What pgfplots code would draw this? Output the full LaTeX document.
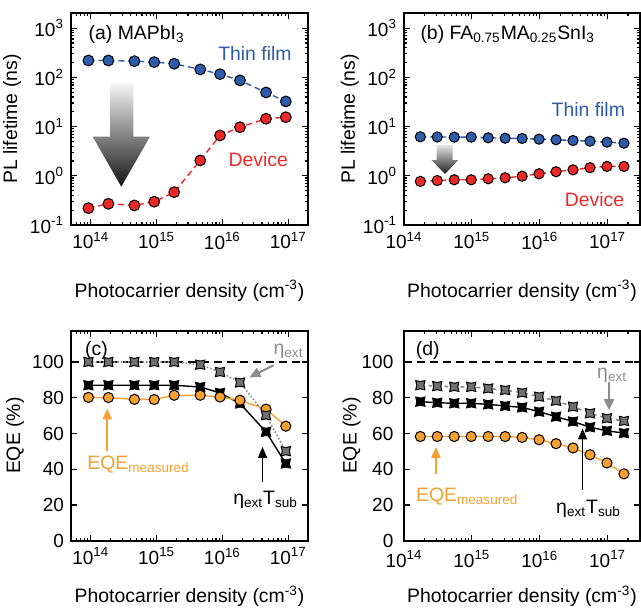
\documentclass[border=0pt]{standalone}
\usepackage{fontspec}
\setmainfont{Liberation Sans}
\usepackage{pgfplots}
\pgfplotsset{compat=1.18}
\usetikzlibrary{arrows.meta}

\definecolor{blueM}{RGB}{46,92,170}
\definecolor{redM}{RGB}{236,40,40}
\definecolor{orangeM}{RGB}{246,160,50}
\definecolor{grayM}{RGB}{112,112,112}
\definecolor{grayT}{RGB}{140,140,140}

% square with concave sides
\pgfdeclareplotmark{csq}{%
  \pgfpathmoveto{\pgfpoint{-\pgfplotmarksize}{-\pgfplotmarksize}}%
  \pgfpathlineto{\pgfpoint{0pt}{-0.78\pgfplotmarksize}}%
  \pgfpathlineto{\pgfpoint{\pgfplotmarksize}{-\pgfplotmarksize}}%
  \pgfpathlineto{\pgfpoint{0.78\pgfplotmarksize}{0pt}}%
  \pgfpathlineto{\pgfpoint{\pgfplotmarksize}{\pgfplotmarksize}}%
  \pgfpathlineto{\pgfpoint{0pt}{0.78\pgfplotmarksize}}%
  \pgfpathlineto{\pgfpoint{-\pgfplotmarksize}{\pgfplotmarksize}}%
  \pgfpathlineto{\pgfpoint{-0.78\pgfplotmarksize}{0pt}}%
  \pgfpathclose
  \pgfusepathqfillstroke}

\pgfplotsset{every axis/.append style={scale only axis, clip=false,
    axis line style={line width=0.9pt}, tick align=inside,
    tick style={black, line width=0.6pt}, major tick length=3pt, minor tick length=1.6pt,
    font=\fontsize{9.7}{11}\selectfont,
    tick label style={font=\fontsize{9.5}{11}\selectfont},
    /pgf/number format/assume math mode=true}}

\begin{document}
\begin{tikzpicture}
\useasboundingbox (0,0) rectangle (320.5pt,-303.5pt);

% (a)
\begin{axis}[xmode=log, ymode=log, at={(35.5pt,-112.5pt)}, anchor=south west,
  width=118.5pt, height=105.85pt, xmin=5e13, xmax=2e17, ymin=0.1, ymax=2000,
  xtick={1e14,1e15,1e16,1e17},
  xticklabels={10\textsuperscript{14},10\textsuperscript{15},10\textsuperscript{16},10\textsuperscript{17}},
  minor xtick={6e13,7e13,8e13,9e13,2e14,3e14,4e14,5e14,6e14,7e14,8e14,9e14,2e15,3e15,4e15,5e15,6e15,7e15,8e15,9e15,2e16,3e16,4e16,5e16,6e16,7e16,8e16,9e16},
  ytick={0.1,1,10,100,1000},
  yticklabels={10\textsuperscript{-1},10\textsuperscript{0},10\textsuperscript{1},10\textsuperscript{2},10\textsuperscript{3}},
  minor ytick={0.2,0.3,0.4,0.5,0.6,0.7,0.8,0.9,2,3,4,5,6,7,8,9,20,30,40,50,60,70,80,90,200,300,400,500,600,700,800,900},
  xlabel={Photocarrier density (cm\textsuperscript{-3})}, ylabel={PL lifetime (ns)},
  xlabel style={at={(axis description cs:0.5,-0.31)}, anchor=center},
  ylabel style={at={(axis description cs:-0.249,0.5)}, anchor=center}]
\addplot[blueM, densely dashed, line width=0.7pt, mark=*, mark size=2.7pt, mark options={solid, draw=black, fill=blueM, line width=0.5pt}] coordinates {
(9.2e13,220) (1.85e14,220) (4.6e14,213) (9.2e14,204) (1.85e15,189)
(4.6e15,145) (9.2e15,116) (1.85e16,86.5) (4.6e16,49.3) (9.2e16,32.4)};
\addplot[redM, densely dashed, line width=0.7pt, mark=*, mark size=2.7pt, mark options={solid, draw=black, fill=redM, line width=0.5pt}] coordinates {
(9.2e13,0.22) (1.85e14,0.27) (4.6e14,0.25) (9.2e14,0.297) (1.85e15,0.465)
(4.6e15,2.05) (9.2e15,6.6) (1.85e16,9.7) (4.6e16,14.4) (9.2e16,15.5)};
\shade[top color=black!4, bottom color=black!92]
  (axis description cs:0.1646,0.669) -- (axis description cs:0.263,0.669)
  -- (axis description cs:0.263,0.417) -- (axis description cs:0.333,0.417)
  -- (axis description cs:0.212,0.181) -- (axis description cs:0.0916,0.417)
  -- (axis description cs:0.1646,0.417) -- cycle;
\node[anchor=west] at (axis description cs:0.045,0.898) {(a) MAPbI\textsubscript{3}};
\node[text=blueM] at (axis description cs:0.776,0.8125) {Thin film};
\node[text=redM] at (axis description cs:0.79,0.307) {Device};
\end{axis}

% (b)
\begin{axis}[xmode=log, ymode=log, at={(202pt,-112.5pt)}, anchor=south west,
  width=118pt, height=105.85pt, xmin=1e14, xmax=3e17, ymin=0.1, ymax=2000,
  xtick={1e14,1e15,1e16,1e17},
  xticklabels={10\textsuperscript{14},10\textsuperscript{15},10\textsuperscript{16},10\textsuperscript{17}},
  minor xtick={2e14,3e14,4e14,5e14,6e14,7e14,8e14,9e14,2e15,3e15,4e15,5e15,6e15,7e15,8e15,9e15,2e16,3e16,4e16,5e16,6e16,7e16,8e16,9e16,2e17},
  ytick={0.1,1,10,100,1000},
  yticklabels={10\textsuperscript{-1},10\textsuperscript{0},10\textsuperscript{1},10\textsuperscript{2},10\textsuperscript{3}},
  minor ytick={0.2,0.3,0.4,0.5,0.6,0.7,0.8,0.9,2,3,4,5,6,7,8,9,20,30,40,50,60,70,80,90,200,300,400,500,600,700,800,900},
  xlabel={Photocarrier density (cm\textsuperscript{-3})}, ylabel={PL lifetime (ns)},
  xlabel style={at={(axis description cs:0.5,-0.31)}, anchor=center},
  ylabel style={at={(axis description cs:-0.229,0.5)}, anchor=center}]
\addplot[blueM, densely dashed, line width=0.7pt, mark=*, mark size=2.55pt, mark options={solid, draw=black, fill=blueM, line width=0.5pt}] coordinates {
(1.74e14,6.2) (3.09e14,6.15) (5.5e14,6.1) (9.77e14,6.1) (1.74e15,5.9) (3.09e15,5.8)
(5.5e15,5.73) (9.77e15,5.55) (1.74e16,5.4) (3.09e16,5.2) (5.5e16,5.05) (9.77e16,4.82) (1.74e17,4.6)};
\addplot[redM, densely dashed, line width=0.7pt, mark=*, mark size=2.55pt, mark options={solid, draw=black, fill=redM, line width=0.5pt}] coordinates {
(1.74e14,0.77) (3.09e14,0.80) (5.5e14,0.83) (9.77e14,0.83) (1.74e15,0.87) (3.09e15,0.91)
(5.5e15,0.98) (9.77e15,1.10) (1.74e16,1.21) (3.09e16,1.32) (5.5e16,1.46) (9.77e16,1.55) (1.74e17,1.55)};
\shade[top color=black!10, bottom color=black!88]
  (axis description cs:0.1386,0.378) -- (axis description cs:0.2064,0.378)
  -- (axis description cs:0.2064,0.307) -- (axis description cs:0.2301,0.307)
  -- (axis description cs:0.1737,0.241) -- (axis description cs:0.116,0.307)
  -- (axis description cs:0.1386,0.307) -- cycle;
\node[anchor=west] at (axis description cs:0.04,0.898) {(b) FA\textsubscript{0.75}MA\textsubscript{0.25}SnI\textsubscript{3}};
\node[text=blueM] at (axis description cs:0.781,0.5465) {Thin film};
\node[text=redM] at (axis description cs:0.807,0.118) {Device};
\end{axis}

% (c)
\begin{axis}[xmode=log, at={(35.5pt,-270.35pt)}, anchor=south west,
  width=118.5pt, height=105pt, xmin=5e13, xmax=2e17, ymin=0, ymax=117.5,
  xtick={1e14,1e15,1e16,1e17},
  xticklabels={10\textsuperscript{14},10\textsuperscript{15},10\textsuperscript{16},10\textsuperscript{17}},
  minor xtick={6e13,7e13,8e13,9e13,2e14,3e14,4e14,5e14,6e14,7e14,8e14,9e14,2e15,3e15,4e15,5e15,6e15,7e15,8e15,9e15,2e16,3e16,4e16,5e16,6e16,7e16,8e16,9e16},
  ytick={0,20,40,60,80,100},
  xlabel={Photocarrier density (cm\textsuperscript{-3})}, ylabel={EQE (\%)},
  xlabel style={at={(axis description cs:0.5,-0.265)}, anchor=center},
  ylabel style={at={(axis description cs:-0.236,0.5)}, anchor=center}]
\addplot[black, dash pattern=on 4pt off 2.5pt, line width=0.6pt] coordinates {(5e13,100) (2e17,100)};
\addplot[black, line width=0.7pt, mark=csq, mark size=2.3pt, mark options={solid, draw=black, fill=black, line width=0.5pt}] coordinates {
(9.2e13,87) (1.85e14,87) (4.6e14,87) (9.2e14,87) (1.85e15,87)
(4.6e15,86) (9.2e15,82.7) (1.85e16,76.8) (4.6e16,60.9) (9.2e16,43.2)};
\addplot[orangeM, line width=0.7pt, mark=*, mark size=2.55pt, mark options={solid, draw=black, fill=orangeM, line width=0.5pt}] coordinates {
(9.2e13,80.2) (1.85e14,80.1) (4.6e14,79.1) (9.2e14,79.0) (1.85e15,81.4)
(4.6e15,81.4) (9.2e15,80.4) (1.85e16,78.6) (4.6e16,73.6) (9.2e16,64.1)};
\addplot[grayT, densely dotted, line width=0.8pt, mark=csq, mark size=2.3pt, mark options={solid, draw=black, fill=grayM, line width=0.5pt}] coordinates {
(9.2e13,100) (1.85e14,100) (4.6e14,100) (9.2e14,100) (1.85e15,100)
(4.6e15,98.5) (9.2e15,94.4) (1.85e16,88.5) (4.6e16,70.2) (9.2e16,50.1)};
\draw[grayT, line width=1pt, -{Triangle[length=5.5pt, width=5pt]}] (axis cs:6.0e16,98.2) -- (axis cs:2.57e16,91.4);
\draw[orangeM, line width=1pt, -{Triangle[length=5.5pt, width=4.5pt]}] (axis cs:1.78e14,50) -- (axis cs:1.78e14,74);
\draw[black, line width=0.8pt, -{Triangle[length=5.5pt, width=4.5pt]}] (axis cs:4.07e16,33) -- (axis cs:4.07e16,52.5);
\node[anchor=west] at (axis description cs:0.03,0.908) {(c)};
\node[text=grayT] at (axis description cs:0.918,0.9) {η\textsubscript{ext}};
\node[text=orangeM] at (axis description cs:0.285,0.3605) {EQE\textsubscript{measured}};
\node at (axis description cs:0.821,0.194) {η\textsubscript{ext}T\textsubscript{sub}};
\end{axis}

% (d)
\begin{axis}[xmode=log, at={(202pt,-270.35pt)}, anchor=south west,
  width=118pt, height=105pt, xmin=1e14, xmax=3e17, ymin=0, ymax=117.5,
  xtick={1e14,1e15,1e16,1e17},
  xticklabels={10\textsuperscript{14},10\textsuperscript{15},10\textsuperscript{16},10\textsuperscript{17}},
  minor xtick={2e14,3e14,4e14,5e14,6e14,7e14,8e14,9e14,2e15,3e15,4e15,5e15,6e15,7e15,8e15,9e15,2e16,3e16,4e16,5e16,6e16,7e16,8e16,9e16,2e17},
  ytick={0,20,40,60,80,100},
  yticklabel style={xshift=-1.8pt},
  xticklabel style={yshift=-1.5pt},
  xlabel={Photocarrier density (cm\textsuperscript{-3})}, ylabel={EQE (\%)},
  xlabel style={at={(axis description cs:0.5,-0.265)}, anchor=center},
  ylabel style={at={(axis description cs:-0.222,0.5)}, anchor=center}]
\addplot[black, dash pattern=on 4pt off 2.5pt, line width=0.6pt] coordinates {(1e14,100) (3e17,100)};
\addplot[black, line width=0.7pt, mark=csq, mark size=2.3pt, mark options={solid, draw=black, fill=black, line width=0.5pt}] coordinates {
(1.74e14,77.8) (3.09e14,77.2) (5.5e14,76.9) (9.77e14,76.9) (1.74e15,76.3) (3.09e15,75.4)
(5.5e15,74.6) (9.77e15,72.2) (1.74e16,69.4) (3.09e16,66.7) (5.5e16,63.5) (9.77e16,61.5) (1.74e17,60.2)};
\addplot[orangeM, line width=0.7pt, mark=*, mark size=2.55pt, mark options={solid, draw=black, fill=orangeM, line width=0.5pt}] coordinates {
(1.74e14,58.3) (3.09e14,58.3) (5.5e14,58.3) (9.77e14,58.3) (1.74e15,58.3) (3.09e15,58.3)
(5.5e15,57.8) (9.77e15,56.5) (1.74e16,54.3) (3.09e16,51.9) (5.5e16,48.1) (9.77e16,43.5) (1.74e17,37.4)};
\addplot[grayT, dash pattern=on 2pt off 2pt, line width=0.8pt, mark=csq, mark size=2.3pt, mark options={solid, draw=black, fill=grayM, line width=0.5pt}] coordinates {
(1.74e14,87.0) (3.09e14,86.5) (5.5e14,86.1) (9.77e14,86.1) (1.74e15,85.2) (3.09e15,84.3)
(5.5e15,82.8) (9.77e15,80.6) (1.74e16,78.3) (3.09e16,75.0) (5.5e16,71.3) (9.77e16,68.5) (1.74e17,67.0)};
\draw[grayT, line width=1pt, -{Triangle[length=5.5pt, width=5pt]}] (axis cs:1.05e17,88.8) -- (axis cs:1.05e17,73);
\draw[orangeM, line width=1pt, -{Triangle[length=5.5pt, width=4.5pt]}] (axis cs:2.95e14,37.6) -- (axis cs:2.95e14,52.5);
\draw[black, line width=0.8pt, -{Triangle[length=5.5pt, width=4.5pt]}] (axis cs:4.27e16,28.3) -- (axis cs:4.27e16,62.8);
\node[anchor=west] at (axis description cs:0.02,0.908) {(d)};
\node[text=grayT] at (axis description cs:0.882,0.789) {η\textsubscript{ext}};
\node[text=orangeM] at (axis description cs:0.268,0.21) {EQE\textsubscript{measured}};
\node at (axis description cs:0.782,0.154) {η\textsubscript{ext}T\textsubscript{sub}};
\end{axis}
\end{tikzpicture}
\end{document}
